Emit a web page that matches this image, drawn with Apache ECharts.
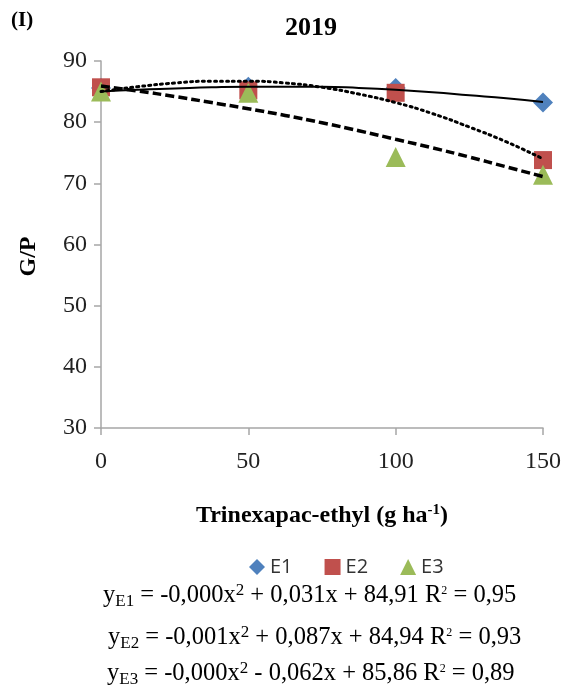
<!DOCTYPE html>
<html>
  <head>
    <meta charset="utf-8" />
    <title>ECharts</title>
    <script src="https://cdn.jsdelivr.net/npm/echarts@6/dist/echarts.min.js"></script>
  </head>
  <body style="margin:0">
    <div id="main" style="width: 565px; height: 690px"></div>
    <script type="text/javascript">
      // doses and observed G/P
      var doses = [0, 50, 100, 150];
      var e1 = [85.6, 85.8, 85.6, 83.2];
      var e2 = [85.7, 85.2, 84.8, 73.8];
      var e3 = [85.0, 84.8, 74.3, 71.4];

      // trend curves
      var trendX = [0, 12.5, 25, 37.5, 50, 62.5, 75, 87.5, 100, 112.5, 125, 137.5, 150];
      var trendE1 = [85.0, 85.3, 85.5, 85.7, 85.8, 85.8, 85.8, 85.6, 85.3, 84.9, 84.4, 83.9, 83.3];
      var trendE2 = [85.0, 85.8, 86.4, 86.7, 86.7, 86.4, 85.7, 84.6, 83.2, 81.4, 79.2, 76.8, 74.0];
      var trendE3 = [85.9, 85.1, 84.2, 83.2, 82.2, 81.1, 79.9, 78.6, 77.2, 75.8, 74.3, 72.7, 71.1];

      var yTicks = [30, 40, 50, 60, 70, 80, 90];
      var xTicks = [0, 50, 100, 150];

      function pairs(xs, ys) {
        var out = [];
        for (var i = 0; i < xs.length; i++) out.push([xs[i], ys[i]]);
        return out;
      }

      var serif = "'Liberation Serif', 'DejaVu Serif', serif";
      var eqRich = {
        t: { fontFamily: serif, fontSize: 24.5, fontWeight: "normal", color: "#000" },
        s: { fontFamily: serif, fontSize: 17, fontWeight: "normal", color: "#000", padding: [11, 0, 0, 0] },
        p: { fontFamily: serif, fontSize: 17, fontWeight: "normal", color: "#000", padding: [0, 0, 11, 0] },
        r: { fontFamily: serif, fontSize: 12, fontWeight: "normal", color: "#000", padding: [0, 0, 10, 0] }
      };

      var myChart = echarts.init(document.getElementById("main"));

      var option = {
        animation: false,
        backgroundColor: "#fff",
        title: [
          { text: "(I)", left: 11, top: 10, padding: 0,
            textStyle: { fontFamily: serif, fontSize: 21, fontWeight: "bold", color: "#000" } },
          { text: "2019", left: 285, top: 15, padding: 0,
            textStyle: { fontFamily: serif, fontSize: 26, fontWeight: "bold", color: "#000" } },
          { text: "{t|y}{s|E1}{t| = -0,000x}{p|2}{t| + 0,031x + 84,91 R}{r|2}{t| = 0,95}",
            left: 103, top: 582, padding: 0, textStyle: { fontWeight: "normal", rich: eqRich } },
          { text: "{t|y}{s|E2}{t| = -0,001x}{p|2}{t| + 0,087x + 84,94 R}{r|2}{t| = 0,93}",
            left: 108, top: 624, padding: 0, textStyle: { fontWeight: "normal", rich: eqRich } },
          { text: "{t|y}{s|E3}{t| = -0,000x}{p|2}{t| - 0,062x + 85,86 R}{r|2}{t| = 0,89}",
            left: 107, top: 660, padding: 0, textStyle: { fontWeight: "normal", rich: eqRich } }
        ],
        legend: {
          top: 552,
          left: 244,
          itemGap: 32,
          itemWidth: 16,
          itemHeight: 16,
          textStyle: { fontFamily: "'Open Sans', sans-serif", fontSize: 20, color: "#333" },
          data: [
            { name: "E1", icon: "diamond" },
            { name: "E2", icon: "rect" },
            { name: "E3", icon: "triangle" }
          ]
        },
        grid: { left: 101, right: 22, top: 61, bottom: 262 },
        xAxis: {
          type: "value",
          min: 0,
          max: 150,
          interval: 50,
          name: "{b|Trinexapac-ethyl (g ha}{sup|-1}{b|)}",
          nameLocation: "middle",
          nameGap: 75,
          nameTextStyle: {
            rich: {
              b: { fontFamily: serif, fontSize: 24, fontWeight: "bold", color: "#000" },
              sup: { fontFamily: serif, fontSize: 15, fontWeight: "bold", color: "#000", padding: [0, 0, 10, 0] }
            }
          },
          axisLine: { lineStyle: { color: "#a6a6a6", width: 1.5 } },
          axisTick: { show: true, inside: false, length: 7, lineStyle: { color: "#a6a6a6", width: 1.5 } },
          splitLine: { show: false },
          axisLabel: {
            margin: 22,
            fontFamily: serif,
            fontSize: 24,
            color: "#222",
            formatter: function (v) { return xTicks.indexOf(v) >= 0 ? String(v) : ""; }
          }
        },
        yAxis: {
          type: "value",
          min: 30,
          max: 90,
          interval: 10,
          name: "G/P",
          nameLocation: "middle",
          nameGap: 60,
          nameTextStyle: { fontFamily: serif, fontSize: 24, fontWeight: "bold", color: "#000", padding: [0, 24, 0, 0] },
          axisLine: { show: true, lineStyle: { color: "#a6a6a6", width: 1.5 } },
          axisTick: { show: true, inside: false, length: 7, lineStyle: { color: "#a6a6a6", width: 1.5 } },
          splitLine: { show: false },
          axisLabel: {
            margin: 14,
            fontFamily: serif,
            fontSize: 24,
            color: "#222",
            formatter: function (v) { return yTicks.indexOf(v) >= 0 ? String(v) : ""; }
          }
        },
        series: [
          { name: "E1", type: "scatter", symbol: "diamond", symbolSize: 20,
            itemStyle: { color: "#4f81bd", opacity: 1 }, data: pairs(doses, e1) },
          { name: "E2", type: "scatter", symbol: "rect", symbolSize: 18,
            itemStyle: { color: "#c0504d", opacity: 1 }, data: pairs(doses, e2) },
          { name: "E3", type: "scatter", symbol: "triangle", symbolSize: 20,
            itemStyle: { color: "#9bbb59", opacity: 1 }, data: pairs(doses, e3) },
          { name: "tE1", type: "line", smooth: true, showSymbol: false, silent: true,
            lineStyle: { color: "#000", width: 2 }, data: pairs(trendX, trendE1) },
          { name: "tE2", type: "line", smooth: true, showSymbol: false, silent: true,
            lineStyle: { color: "#000", width: 3, type: [2, 4], cap: "round" }, data: pairs(trendX, trendE2) },
          { name: "tE3", type: "line", smooth: true, showSymbol: false, silent: true,
            lineStyle: { color: "#000", width: 3.5, type: [9, 4] }, data: pairs(trendX, trendE3) }
        ]
      };

      myChart.setOption(option);
    </script>
  </body>
</html>
